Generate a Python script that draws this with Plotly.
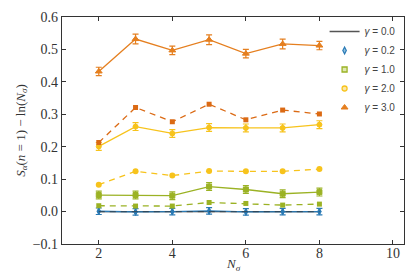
import plotly.graph_objects as go

n_sigma = [2, 3, 4, 5, 6, 7, 8]

# solid series (with error bars)
g00_solid = [0.0, 0.0, 0.0, 0.0, 0.0, 0.0, 0.0]
g02_solid = [0.001, -0.001, 0.0, 0.002, -0.001, 0.0, 0.0]
g02_err = [0.010, 0.010, 0.010, 0.010, 0.010, 0.010, 0.010]
g10_solid = [0.051, 0.051, 0.049, 0.077, 0.068, 0.055, 0.060]
g10_err = [0.012, 0.012, 0.012, 0.012, 0.012, 0.012, 0.012]
g20_solid = [0.201, 0.262, 0.241, 0.259, 0.258, 0.258, 0.268]
g20_err = [0.012, 0.012, 0.012, 0.012, 0.012, 0.012, 0.012]
g30_solid = [0.432, 0.532, 0.497, 0.530, 0.487, 0.517, 0.512]
g30_err = [0.013, 0.015, 0.013, 0.015, 0.013, 0.015, 0.013]

# dashed series
g00_dash = [0.0, 0.0, 0.0, 0.0, 0.0, 0.0, 0.0]
g10_dash = [0.018, 0.017, 0.017, 0.028, 0.025, 0.020, 0.023]
g20_dash = [0.083, 0.124, 0.111, 0.125, 0.124, 0.124, 0.131]
g30_dash = [0.213, 0.321, 0.277, 0.331, 0.283, 0.313, 0.301]

labels = ["0.0", "0.2", "1.0", "2.0", "3.0"]
x_ticks = [2, 4, 6, 8, 10]

C_BLUE = "#2a7ab5"
C_GREEN = "#9bb224"
C_YELLOW = "#f7c31c"
C_ORANGE = "#e57f1f"
C_ORANGE_D = "#db6a14"

fig = go.Figure()

def solid(y, err, color, symbol, size=5):
    fig.add_trace(go.Scatter(
        x=n_sigma, y=y, mode="lines+markers", showlegend=False,
        line=dict(color=color, width=1.3),
        marker=dict(symbol=symbol, size=size, color=color, line=dict(color=color, width=1)),
        error_y=dict(type="data", array=err, color=color, thickness=1.2, width=3),
    ))

def dashed(y, color, symbol, size=5):
    fig.add_trace(go.Scatter(
        x=n_sigma, y=y, mode="lines+markers", showlegend=False,
        line=dict(color=color, width=1.3, dash="6px,5px"),
        marker=dict(symbol=symbol, size=size, color=color),
    ))

fig.add_trace(go.Scatter(x=n_sigma, y=g00_solid, mode="lines", showlegend=False,
                         line=dict(color="#333333", width=1.3)))
solid(g02_solid, g02_err, C_BLUE, "diamond-tall", 5)
fig.add_trace(go.Scatter(x=n_sigma, y=g00_dash, mode="lines", showlegend=False,
                         line=dict(color="#333333", width=1.2, dash="6px,5px"), opacity=0.6))
solid(g10_solid, g10_err, C_GREEN, "square", 5)
dashed(g10_dash, C_GREEN, "square", 5)
solid(g20_solid, g20_err, C_YELLOW, "circle", 5)
dashed(g20_dash, C_YELLOW, "circle", 6)
solid(g30_solid, g30_err, C_ORANGE, "triangle-up", 6)
dashed(g30_dash, C_ORANGE_D, "square", 5)

def lab(v):
    return "<i>γ</i> = " + v

# legend entries
fig.add_trace(go.Scatter(x=[None], y=[None], mode="lines", name=lab(labels[0]),
                         legendgroup="g", line=dict(color="#555555", width=1.5)))
fig.add_trace(go.Scatter(x=[None], y=[None], mode="markers", name=lab(labels[1]),
                         legendgroup="g",
                         marker=dict(symbol="diamond-tall", size=5, color="#8ec0e0",
                                     line=dict(color=C_BLUE, width=1.2))))
fig.add_trace(go.Scatter(x=[None], y=[None], mode="markers", name=lab(labels[2]),
                         legendgroup="g",
                         marker=dict(symbol="square", size=5, color="#dfe8b0",
                                     line=dict(color=C_GREEN, width=1.3))))
fig.add_trace(go.Scatter(x=[None], y=[None], mode="markers", name=lab(labels[3]),
                         legendgroup="g",
                         marker=dict(symbol="circle", size=5, color="#fbe7a8",
                                     line=dict(color=C_YELLOW, width=1.3))))
fig.add_trace(go.Scatter(x=[None], y=[None], mode="markers", name=lab(labels[4]),
                         legendgroup="g",
                         marker=dict(symbol="triangle-up", size=6, color=C_ORANGE,
                                     line=dict(color=C_ORANGE, width=1))))

axis_common = dict(
    showline=True, linecolor="#333333", linewidth=1.3, mirror="ticks",
    ticks="inside", ticklen=4, tickwidth=1, tickcolor="#333333",
    showgrid=False, zeroline=False,
    tickfont=dict(family="Liberation Serif", size=14, color="#333333"),
)

fig.update_layout(
    width=415, height=277,
    margin=dict(l=62, r=10, t=11, b=33),
    paper_bgcolor="white", plot_bgcolor="white",
    xaxis=dict(range=[1, 10.3], tickvals=x_ticks, ticktext=[str(v) for v in x_ticks],
               **axis_common),
    yaxis=dict(range=[-0.1, 0.6], dtick=0.1, tickformat=".1f",
               title=dict(text="<i>S<sub>α</sub></i>(<i>n</i> = 1) − ln(<i>N<sub>σ</sub></i>)",
                          standoff=4,
                          font=dict(family="Liberation Serif", size=13, color="#333333")),
               **axis_common),
    legend=dict(x=0.99, y=1.0, xanchor="right", yanchor="top",
                bgcolor="rgba(0,0,0,0)", borderwidth=0,
                font=dict(family="Liberation Sans", size=10, color="#444444"),
                tracegroupgap=0),
    annotations=[dict(text="<i>N<sub>σ</sub></i>", xref="paper", yref="paper",
                      x=0.5, y=-0.09, xanchor="center", yanchor="middle",
                      showarrow=False,
                      font=dict(family="Liberation Serif", size=13, color="#333333"))],
)

try:
    fig.update_xaxes(ticklabelstandoff=-4)
except Exception:
    pass

fig.write_html("out.html", config={"displayModeBar": False},
               post_script="document.body.style.margin='0';")
